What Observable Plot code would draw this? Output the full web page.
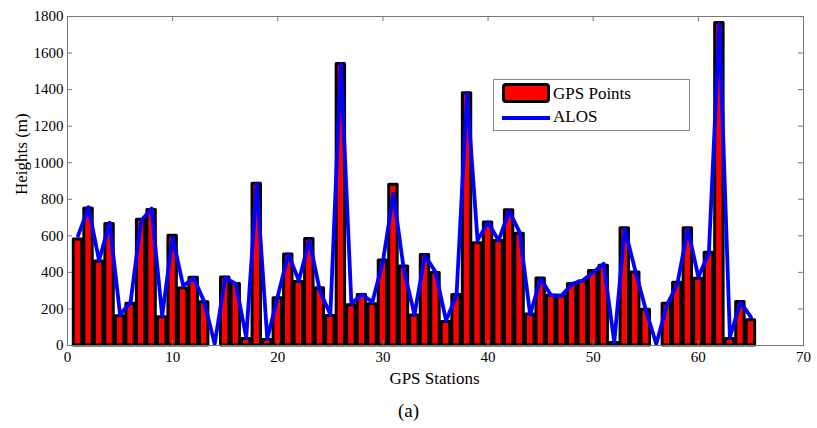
<!DOCTYPE html>
<html><head><meta charset="utf-8">
<script src="https://cdn.jsdelivr.net/npm/d3@7"></script>
<script src="https://cdn.jsdelivr.net/npm/@observablehq/plot@0.6"></script>
<style>
body{margin:0;background:#fff;font-family:"Liberation Serif",serif;}
#wrap{position:relative;width:817px;height:428px;overflow:hidden;font-family:"Liberation Serif",serif;}
#wrap svg{display:block;}
#legend{position:absolute;left:493px;top:79px;width:197px;height:52px;border:1px solid #888;background:#fff;box-sizing:border-box;}
.lg{position:absolute;font-size:17px;line-height:17px;color:#000;white-space:nowrap;}
#sw{position:absolute;left:8px;top:3px;width:48px;height:20px;background:#ff0000;border:3px solid #000;border-radius:4px;box-sizing:border-box;}
#ln{position:absolute;left:8px;top:36px;width:48px;height:4px;background:#0000ff;}
</style></head><body><div id="wrap"></div>
<script>
const stations = d3.range(1, 66);
const gpsHeights = [580,750,460,665,160,228,688,742,155,600,312,370,237,0,372,337,36,885,30,258,498,348,582,313,162,1540,220,276,226,465,880,432,164,495,396,128,276,1380,560,673,572,740,612,170,366,272,268,337,350,408,436,13,642,400,195,0,228,343,642,365,508,1765,36,238,138];
const alosHeights = [600,756,465,672,168,238,683,750,162,592,326,370,240,8,372,337,45,885,36,270,500,355,575,300,170,1540,230,279,238,460,830,410,170,493,402,137,274,1380,575,675,574,735,620,170,365,274,274,337,356,401,447,18,638,410,195,8,220,337,638,374,508,1760,45,237,155];
const xTicks = [0,10,20,30,40,50,60,70];
const yTicks = [0,200,400,600,800,1000,1200,1400,1600,1800];
const seriesNames = ["GPS Points","ALOS"];
const data = stations.map((s,i)=>({station:s, gps:gpsHeights[i], alos:alosHeights[i]}));

const FONT = "Liberation Serif";
const W=817,H=428,mL=67,mR=14,mT=16,mB=83;
const pw=W-mL-mR, ph=H-mT-mB;
const chart = Plot.plot({
  width:W,height:H,marginLeft:mL,marginRight:mR,marginTop:mT,marginBottom:mB,
  style:{fontFamily:FONT,fontSize:"15px",color:"#000",background:"#fff",overflow:"visible"},
  x:{domain:[0,70]},
  y:{domain:[0,1800]},
  marks:[
    Plot.rect(data,{x1:d=>d.station-0.4,x2:d=>d.station+0.4,y1:0,y2:"gps",fill:"#ff0000",stroke:"#000",strokeWidth:3,strokeLinejoin:"round"}),
    Plot.line(data,{x:"station",y:"alos",stroke:"#0000ff",strokeWidth:3.8,strokeLinejoin:"round"}),
    Plot.frame({stroke:"#777"}),
    Plot.tickX(xTicks,{x:d=>d,insetTop:ph-5,stroke:"#777"}),
    Plot.tickX(xTicks,{x:d=>d,insetBottom:ph-5,stroke:"#777"}),
    Plot.tickY(yTicks,{y:d=>d,insetRight:pw-5,stroke:"#777"}),
    Plot.tickY(yTicks,{y:d=>d,insetLeft:pw-5,stroke:"#777"}),
    Plot.axisX({ticks:xTicks,tickSize:0,tickPadding:6,label:null,fontSize:15,tickFormat:d3.format("d")}),
    Plot.axisY({ticks:yTicks,tickSize:0,tickPadding:4,label:null,fontSize:15,tickFormat:d3.format("d")}),
    Plot.text(["Heights (m)"],{frameAnchor:"left",dx:-46,dy:14,rotate:-90,fontSize:17,fill:"#000"}),
    Plot.text(["GPS Stations"],{frameAnchor:"bottom",dx:-1,dy:38,fontSize:17,fill:"#000"}),
    Plot.text(["(a)"],{frameAnchor:"bottom",dx:-27,dy:71,fontSize:19,fill:"#000"})
  ]
});
d3.select(chart).style("font-family", FONT);
d3.select(chart).selectAll("text, g").style("font-family", FONT).attr("font-family", FONT);
const wrap=document.getElementById("wrap");
wrap.appendChild(chart);
const lg=document.createElement("div");
lg.id="legend";
lg.innerHTML=`<div id="sw"></div><div class="lg" style="left:59px;top:5px">${seriesNames[0]}</div><div id="ln"></div><div class="lg" style="left:59px;top:28px">${seriesNames[1]}</div>`;
wrap.appendChild(lg);
</script></body></html>
